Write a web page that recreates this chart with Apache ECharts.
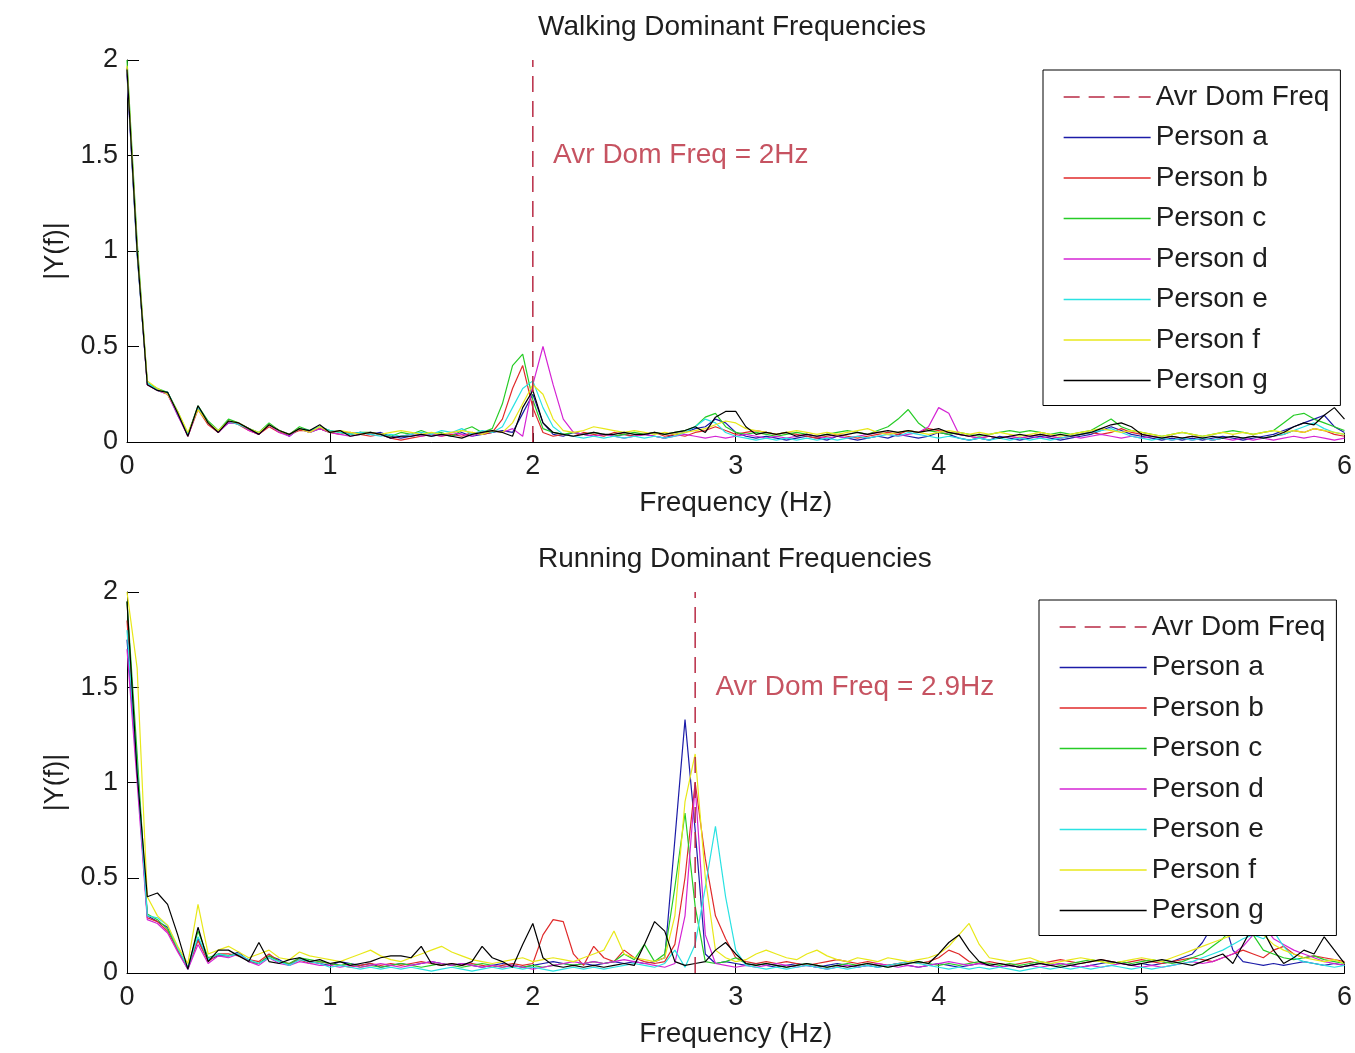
<!DOCTYPE html>
<html>
<head>
<meta charset="utf-8">
<script src="https://cdn.jsdelivr.net/npm/echarts@6/dist/echarts.min.js"></script>
<style>html,body{margin:0;padding:0;background:#fff;}#chart{width:1355px;height:1053px;}</style>
</head>
<body>
<div id="chart"></div>
<script>
// Frequency bins (Hz)
const freqs = [0,0.05,0.1,0.15,0.2,0.25,0.3,0.35,0.4,0.45,0.5,0.55,0.6,0.65,0.7,0.75,0.8,0.85,0.9,0.95,
1,1.05,1.1,1.15,1.2,1.25,1.3,1.35,1.4,1.45,1.5,1.55,1.6,1.65,1.7,1.75,1.8,1.85,1.9,1.95,
2,2.05,2.1,2.15,2.2,2.25,2.3,2.35,2.4,2.45,2.5,2.55,2.6,2.65,2.7,2.75,2.8,2.85,2.9,2.95,
3,3.05,3.1,3.15,3.2,3.25,3.3,3.35,3.4,3.45,3.5,3.55,3.6,3.65,3.7,3.75,3.8,3.85,3.9,3.95,
4,4.05,4.1,4.15,4.2,4.25,4.3,4.35,4.4,4.45,4.5,4.55,4.6,4.65,4.7,4.75,4.8,4.85,4.9,4.95,
5,5.05,5.1,5.15,5.2,5.25,5.3,5.35,5.4,5.45,5.5,5.55,5.6,5.65,5.7,5.75,5.8,5.85,5.9,5.95,6];

const personNames = ['Person a','Person b','Person c','Person d','Person e','Person f','Person g'];
const personColors = ['#1c1ca8','#e02a2a','#26cc26','#d424d4','#2ae2e2','#e8e81a','#000000'];

const xTicks = [0,1,2,3,4,5,6];
const yTicks = [0,0.5,1,1.5,2];

// Walking
const walkA = [1.93,0.98,0.31,0.27,0.26,0.14,0.04,0.18,0.10,0.06,0.10,0.10,0.07,0.04,0.09,0.06,0.03,0.07,0.05,0.07,
0.05,0.06,0.04,0.05,0.04,0.05,0.03,0.02,0.03,0.04,0.03,0.04,0.03,0.05,0.03,0.04,0.05,0.06,0.05,0.15,
0.25,0.10,0.04,0.03,0.05,0.04,0.03,0.04,0.03,0.04,0.03,0.04,0.03,0.02,0.04,0.05,0.07,0.08,0.12,0.10,
0.05,0.03,0.02,0.03,0.02,0.01,0.02,0.03,0.02,0.01,0.03,0.02,0.01,0.02,0.03,0.02,0.04,0.03,0.02,0.03,
0.05,0.04,0.02,0.01,0.02,0.01,0.03,0.02,0.01,0.02,0.03,0.02,0.01,0.02,0.03,0.04,0.06,0.08,0.06,0.04,
0.03,0.02,0.01,0.02,0.01,0.02,0.01,0.02,0.03,0.02,0.01,0.02,0.03,0.04,0.06,0.08,0.10,0.12,0.14,0.08,0.05];
const walkB = [1.96,1.02,0.30,0.27,0.25,0.15,0.03,0.17,0.09,0.05,0.11,0.09,0.06,0.04,0.08,0.05,0.04,0.06,0.06,0.07,
0.05,0.04,0.05,0.04,0.03,0.04,0.02,0.01,0.02,0.03,0.04,0.03,0.04,0.03,0.05,0.04,0.05,0.12,0.28,0.40,
0.18,0.05,0.03,0.04,0.03,0.05,0.04,0.03,0.05,0.04,0.03,0.04,0.05,0.03,0.04,0.03,0.05,0.06,0.08,0.06,
0.04,0.05,0.06,0.05,0.04,0.05,0.04,0.03,0.02,0.03,0.04,0.03,0.02,0.03,0.04,0.05,0.04,0.06,0.05,0.07,
0.06,0.05,0.04,0.03,0.02,0.03,0.02,0.03,0.02,0.03,0.04,0.03,0.02,0.03,0.04,0.05,0.04,0.05,0.07,0.05,
0.04,0.03,0.02,0.03,0.02,0.03,0.02,0.01,0.02,0.03,0.02,0.03,0.02,0.03,0.04,0.06,0.05,0.07,0.06,0.04,0.03];
const walkC = [2.00,1.05,0.31,0.28,0.26,0.16,0.04,0.19,0.11,0.06,0.12,0.10,0.07,0.05,0.10,0.06,0.04,0.08,0.06,0.08,
0.06,0.05,0.04,0.05,0.05,0.04,0.03,0.05,0.04,0.06,0.04,0.05,0.03,0.06,0.08,0.05,0.07,0.20,0.40,0.46,
0.22,0.07,0.05,0.04,0.05,0.04,0.05,0.04,0.03,0.04,0.05,0.04,0.05,0.04,0.05,0.06,0.08,0.13,0.15,0.08,
0.05,0.04,0.05,0.04,0.03,0.04,0.05,0.04,0.03,0.04,0.05,0.06,0.05,0.04,0.06,0.08,0.12,0.17,0.10,0.06,
0.05,0.04,0.05,0.04,0.03,0.04,0.05,0.06,0.05,0.06,0.05,0.04,0.05,0.04,0.05,0.06,0.09,0.12,0.08,0.06,
0.05,0.04,0.03,0.04,0.05,0.04,0.03,0.04,0.05,0.06,0.05,0.04,0.05,0.06,0.10,0.14,0.15,0.12,0.10,0.08,0.06];
const walkD = [1.94,1.00,0.30,0.27,0.25,0.14,0.03,0.18,0.10,0.05,0.10,0.10,0.06,0.04,0.09,0.05,0.03,0.07,0.05,0.07,
0.05,0.04,0.03,0.04,0.05,0.04,0.02,0.03,0.04,0.03,0.04,0.03,0.05,0.04,0.03,0.05,0.06,0.05,0.07,0.03,
0.30,0.50,0.30,0.12,0.05,0.04,0.03,0.04,0.03,0.02,0.03,0.04,0.03,0.02,0.03,0.04,0.03,0.02,0.03,0.02,
0.03,0.04,0.03,0.02,0.03,0.02,0.03,0.04,0.03,0.02,0.03,0.02,0.03,0.04,0.05,0.04,0.03,0.04,0.05,0.08,
0.18,0.15,0.04,0.03,0.02,0.03,0.02,0.03,0.02,0.03,0.02,0.03,0.02,0.03,0.02,0.03,0.04,0.03,0.02,0.03,
0.02,0.03,0.02,0.01,0.02,0.01,0.02,0.01,0.02,0.01,0.02,0.01,0.02,0.01,0.02,0.03,0.02,0.03,0.02,0.01,0.02];
const walkE = [1.95,0.99,0.31,0.27,0.26,0.15,0.04,0.18,0.10,0.06,0.11,0.09,0.07,0.05,0.09,0.06,0.04,0.07,0.06,0.08,
0.06,0.05,0.04,0.05,0.04,0.03,0.04,0.03,0.04,0.05,0.04,0.06,0.05,0.07,0.04,0.06,0.05,0.08,0.18,0.28,
0.32,0.18,0.08,0.04,0.03,0.02,0.03,0.02,0.03,0.02,0.03,0.02,0.03,0.02,0.03,0.05,0.08,0.12,0.10,0.05,
0.03,0.02,0.01,0.02,0.01,0.02,0.01,0.02,0.01,0.02,0.01,0.02,0.03,0.02,0.03,0.04,0.03,0.05,0.04,0.03,
0.02,0.03,0.02,0.01,0.02,0.01,0.02,0.01,0.02,0.01,0.02,0.01,0.02,0.03,0.04,0.05,0.06,0.07,0.05,0.03,
0.02,0.01,0.02,0.01,0.02,0.01,0.02,0.01,0.02,0.03,0.02,0.03,0.02,0.03,0.04,0.06,0.08,0.10,0.07,0.05,0.04];
const walkF = [1.97,1.01,0.32,0.28,0.25,0.16,0.05,0.17,0.10,0.06,0.11,0.10,0.07,0.05,0.09,0.06,0.04,0.07,0.05,0.08,
0.05,0.06,0.05,0.04,0.05,0.04,0.05,0.06,0.05,0.04,0.05,0.04,0.05,0.06,0.05,0.04,0.06,0.05,0.10,0.20,
0.30,0.25,0.12,0.06,0.05,0.06,0.08,0.07,0.06,0.05,0.06,0.05,0.04,0.05,0.04,0.05,0.06,0.07,0.09,0.11,
0.10,0.07,0.06,0.05,0.04,0.05,0.06,0.05,0.04,0.05,0.04,0.05,0.06,0.07,0.05,0.04,0.05,0.06,0.05,0.04,
0.05,0.06,0.05,0.04,0.05,0.04,0.05,0.04,0.03,0.04,0.05,0.04,0.03,0.04,0.05,0.06,0.07,0.06,0.05,0.06,
0.05,0.04,0.03,0.04,0.05,0.04,0.03,0.04,0.05,0.04,0.05,0.04,0.05,0.06,0.05,0.06,0.05,0.07,0.06,0.05,0.04];
const walkG = [1.95,1.00,0.30,0.27,0.26,0.15,0.03,0.19,0.10,0.05,0.11,0.10,0.07,0.04,0.09,0.06,0.04,0.07,0.06,0.09,
0.05,0.06,0.03,0.04,0.05,0.04,0.02,0.03,0.03,0.04,0.03,0.04,0.03,0.02,0.04,0.05,0.06,0.05,0.03,0.18,
0.27,0.10,0.05,0.04,0.03,0.04,0.05,0.04,0.04,0.05,0.04,0.04,0.05,0.04,0.05,0.06,0.08,0.05,0.13,0.16,
0.16,0.08,0.04,0.05,0.04,0.05,0.03,0.04,0.03,0.04,0.03,0.04,0.05,0.04,0.05,0.06,0.05,0.06,0.05,0.06,
0.07,0.05,0.04,0.03,0.04,0.03,0.02,0.03,0.04,0.03,0.04,0.03,0.04,0.03,0.04,0.05,0.07,0.09,0.10,0.08,
0.04,0.03,0.02,0.03,0.02,0.03,0.02,0.03,0.02,0.03,0.02,0.03,0.02,0.03,0.05,0.08,0.10,0.09,0.14,0.18,0.12];

// Running
const runA = [1.75,1.05,0.30,0.27,0.24,0.12,0.02,0.18,0.07,0.09,0.09,0.11,0.06,0.05,0.09,0.07,0.04,0.08,0.06,0.05,
0.04,0.06,0.05,0.04,0.05,0.03,0.04,0.05,0.04,0.05,0.06,0.05,0.04,0.05,0.04,0.03,0.04,0.05,0.04,0.03,
0.04,0.05,0.06,0.05,0.04,0.05,0.04,0.05,0.06,0.05,0.06,0.05,0.06,0.08,0.70,1.33,0.75,0.10,0.05,0.06,
0.05,0.04,0.05,0.04,0.03,0.04,0.05,0.04,0.03,0.04,0.05,0.04,0.03,0.04,0.03,0.04,0.05,0.04,0.03,0.04,
0.05,0.04,0.03,0.04,0.05,0.04,0.03,0.04,0.03,0.04,0.05,0.04,0.05,0.04,0.03,0.04,0.05,0.06,0.05,0.04,
0.05,0.04,0.05,0.06,0.08,0.10,0.16,0.25,0.30,0.12,0.06,0.05,0.04,0.05,0.04,0.05,0.06,0.05,0.04,0.05,0.04];
const runB = [1.85,1.10,0.29,0.27,0.22,0.12,0.03,0.17,0.06,0.10,0.10,0.09,0.07,0.06,0.10,0.06,0.05,0.07,0.05,0.06,
0.05,0.04,0.03,0.04,0.05,0.04,0.05,0.04,0.05,0.06,0.05,0.04,0.05,0.04,0.05,0.04,0.03,0.04,0.05,0.04,
0.05,0.20,0.28,0.27,0.10,0.04,0.14,0.08,0.06,0.12,0.08,0.06,0.05,0.06,0.15,0.50,1.00,0.60,0.30,0.18,
0.08,0.06,0.05,0.06,0.05,0.06,0.05,0.04,0.05,0.06,0.07,0.06,0.05,0.06,0.05,0.04,0.05,0.06,0.05,0.06,
0.08,0.12,0.10,0.06,0.05,0.06,0.05,0.04,0.05,0.06,0.05,0.06,0.07,0.06,0.05,0.06,0.07,0.06,0.05,0.06,
0.07,0.06,0.05,0.06,0.07,0.08,0.07,0.06,0.08,0.10,0.12,0.10,0.08,0.12,0.14,0.10,0.08,0.09,0.08,0.07,0.06];
const runC = [1.95,1.15,0.31,0.28,0.23,0.13,0.03,0.22,0.08,0.10,0.09,0.10,0.06,0.05,0.09,0.06,0.05,0.08,0.07,0.06,
0.05,0.04,0.05,0.03,0.04,0.03,0.04,0.05,0.04,0.03,0.04,0.05,0.04,0.03,0.04,0.05,0.04,0.03,0.04,0.03,
0.04,0.03,0.04,0.05,0.04,0.05,0.06,0.05,0.06,0.10,0.07,0.15,0.06,0.10,0.45,0.84,0.35,0.06,0.05,0.06,
0.08,0.05,0.04,0.05,0.04,0.03,0.04,0.05,0.04,0.03,0.04,0.05,0.04,0.05,0.04,0.03,0.04,0.05,0.06,0.05,
0.04,0.05,0.04,0.05,0.06,0.05,0.04,0.05,0.04,0.05,0.06,0.05,0.04,0.05,0.06,0.07,0.06,0.05,0.06,0.05,
0.06,0.07,0.06,0.05,0.06,0.08,0.10,0.14,0.18,0.24,0.28,0.20,0.12,0.10,0.08,0.07,0.08,0.09,0.07,0.06,0.05];
const runD = [1.70,1.00,0.28,0.26,0.21,0.11,0.02,0.15,0.05,0.09,0.08,0.10,0.06,0.04,0.08,0.05,0.04,0.06,0.05,0.04,
0.04,0.03,0.04,0.03,0.04,0.05,0.04,0.03,0.04,0.05,0.06,0.05,0.04,0.05,0.04,0.03,0.04,0.03,0.04,0.03,
0.02,0.03,0.04,0.05,0.06,0.05,0.06,0.05,0.06,0.07,0.06,0.05,0.04,0.03,0.05,0.30,0.98,0.20,0.05,0.04,
0.03,0.04,0.03,0.04,0.05,0.04,0.03,0.04,0.03,0.02,0.03,0.04,0.03,0.04,0.05,0.04,0.03,0.04,0.03,0.04,
0.05,0.06,0.05,0.04,0.05,0.04,0.03,0.04,0.03,0.04,0.03,0.04,0.05,0.04,0.03,0.04,0.03,0.04,0.05,0.04,
0.03,0.04,0.03,0.04,0.05,0.06,0.05,0.06,0.08,0.10,0.14,0.20,0.25,0.18,0.15,0.12,0.10,0.08,0.06,0.05,0.04];
const runE = [1.80,1.08,0.30,0.29,0.25,0.13,0.03,0.19,0.07,0.10,0.09,0.10,0.07,0.05,0.08,0.06,0.04,0.07,0.06,0.05,
0.03,0.04,0.03,0.02,0.03,0.02,0.03,0.02,0.03,0.02,0.01,0.02,0.03,0.02,0.01,0.02,0.03,0.02,0.03,0.02,
0.03,0.02,0.01,0.02,0.03,0.02,0.03,0.02,0.03,0.04,0.05,0.04,0.03,0.05,0.12,0.03,0.15,0.45,0.77,0.40,
0.12,0.04,0.03,0.02,0.03,0.02,0.03,0.04,0.03,0.02,0.03,0.02,0.03,0.04,0.03,0.04,0.05,0.06,0.05,0.04,
0.03,0.02,0.03,0.02,0.03,0.02,0.03,0.02,0.01,0.02,0.03,0.02,0.03,0.02,0.03,0.02,0.03,0.04,0.03,0.02,
0.03,0.02,0.03,0.04,0.05,0.06,0.08,0.10,0.12,0.15,0.18,0.20,0.18,0.22,0.14,0.08,0.06,0.05,0.04,0.03,0.04];
const runF = [2.00,1.60,0.40,0.30,0.25,0.14,0.05,0.36,0.10,0.12,0.14,0.11,0.08,0.10,0.12,0.08,0.07,0.11,0.09,0.08,
0.07,0.06,0.08,0.10,0.12,0.09,0.07,0.06,0.08,0.10,0.12,0.14,0.11,0.09,0.07,0.06,0.05,0.06,0.07,0.08,
0.06,0.07,0.08,0.07,0.06,0.08,0.10,0.12,0.22,0.10,0.08,0.07,0.06,0.08,0.30,0.90,1.15,0.50,0.12,0.08,
0.06,0.07,0.10,0.12,0.10,0.08,0.07,0.10,0.12,0.09,0.07,0.06,0.08,0.07,0.06,0.08,0.07,0.06,0.07,0.08,
0.10,0.14,0.20,0.26,0.15,0.08,0.07,0.06,0.07,0.08,0.06,0.05,0.06,0.07,0.08,0.07,0.06,0.05,0.06,0.07,
0.08,0.07,0.06,0.08,0.10,0.12,0.14,0.16,0.18,0.20,0.22,0.28,0.20,0.15,0.12,0.10,0.08,0.07,0.06,0.07,0.05];
const runG = [1.95,1.05,0.40,0.42,0.36,0.20,0.02,0.24,0.06,0.12,0.12,0.09,0.06,0.16,0.06,0.05,0.07,0.08,0.06,0.07,
0.05,0.06,0.04,0.05,0.06,0.08,0.09,0.09,0.08,0.14,0.05,0.04,0.05,0.04,0.06,0.14,0.08,0.06,0.03,0.15,
0.26,0.08,0.04,0.03,0.04,0.03,0.04,0.03,0.04,0.05,0.04,0.15,0.27,0.22,0.06,0.04,0.05,0.06,0.12,0.16,
0.10,0.05,0.04,0.05,0.04,0.03,0.04,0.05,0.04,0.03,0.04,0.03,0.04,0.05,0.04,0.03,0.04,0.05,0.06,0.05,
0.10,0.16,0.20,0.12,0.06,0.04,0.05,0.04,0.03,0.04,0.05,0.04,0.03,0.04,0.05,0.06,0.07,0.06,0.05,0.04,
0.05,0.06,0.07,0.06,0.05,0.04,0.06,0.08,0.10,0.05,0.15,0.25,0.22,0.12,0.05,0.08,0.12,0.10,0.19,0.12,0.05];

const walkSeries = [walkA, walkB, walkC, walkD, walkE, walkF, walkG];
const runSeries = [runA, runB, runC, runD, runE, runF, runG];

const walkAvrFreq = 2.0;
const runAvrFreq = 2.8;
const walkAvrLabel = 'Avr Dom Freq = 2Hz';
const runAvrLabel = 'Avr Dom Freq = 2.9Hz';
const labelAt = [[2.1, 1.5], [2.9, 1.5]];

const titles = ['Walking Dominant Frequencies', 'Running Dominant Frequencies'];
const avrName = 'Avr Dom Freq';

const FONT = '"Liberation Sans", Arial, sans-serif';
const TXT = '#1e1e1e';
const AVR_COLOR = '#b82a44';
const ANNOT_COLOR = '#b8283a';

function xAxisCfg(idx) {
  return {
    gridIndex: idx, type: 'value', min: 0, max: 6, interval: 1,
    axisLine: { show: true, onZero: false, lineStyle: { color: '#000', width: 1 } },
    axisTick: { show: true, inside: true, length: 9, lineStyle: { color: '#000' } },
    axisLabel: { color: TXT, fontSize: 27, fontFamily: FONT, margin: 11,
      formatter: v => xTicks.includes(v) ? String(v) : '' },
    splitLine: { show: false },
    name: 'Frequency (Hz)', nameLocation: 'middle', nameGap: 47,
    nameTextStyle: { color: TXT, fontSize: 28, fontFamily: FONT }
  };
}
function yAxisCfg(idx) {
  return {
    gridIndex: idx, type: 'value', min: 0, max: 2, interval: 0.5,
    axisLine: { show: true, lineStyle: { color: '#000', width: 1 } },
    axisTick: { show: true, inside: true, length: 12, lineStyle: { color: '#000' } },
    axisLabel: { color: TXT, fontSize: 27, fontFamily: FONT, margin: 9,
      formatter: v => yTicks.includes(v) ? String(v) : '' },
    splitLine: { show: false },
    name: '|Y(f)|', nameLocation: 'middle', nameRotate: 90, nameGap: 58,
    nameTextStyle: { color: TXT, fontSize: 27, fontFamily: FONT }
  };
}

const series = [];
[walkSeries, runSeries].forEach((set, g) => {
  set.forEach((vals, k) => {
    series.push({
      name: personNames[k], type: 'line', xAxisIndex: g, yAxisIndex: g,
      data: vals.map((v, i) => [freqs[i], v]),
      symbol: 'none', showSymbol: false,
      lineStyle: { color: personColors[k], width: 1.2 },
      itemStyle: { color: personColors[k] },
      z: 2 + k * 0.01
    });
  });
  const f = g === 0 ? walkAvrFreq : runAvrFreq;
  series.push({
    name: avrName, type: 'line', xAxisIndex: g, yAxisIndex: g,
    data: [[f, 0], [f, 2]],
    symbol: 'none', showSymbol: false,
    lineStyle: { color: AVR_COLOR, width: 1.5, type: [16, 9] },
    itemStyle: { color: AVR_COLOR },
    z: 3
  });
  series.push({
    name: 'annot' + g, type: 'scatter', xAxisIndex: g, yAxisIndex: g,
    data: [labelAt[g]], symbolSize: 0, silent: true,
    label: { show: true, position: 'right', distance: 0,
      formatter: g === 0 ? walkAvrLabel : runAvrLabel,
      color: ANNOT_COLOR, fontSize: 28, fontFamily: FONT },
    z: 3
  });
});

const legendData = [avrName].concat(personNames);
function legendCfg(left, top) {
  return {
    show: true, orient: 'vertical', left: left, top: top,
    data: legendData, selectedMode: false,
    backgroundColor: '#fff', borderColor: '#000', borderWidth: 1, borderRadius: 0,
    padding: [12, 11, 10, 20],
    itemWidth: 87, itemHeight: 14, itemGap: 10.5,
    itemStyle: { color: 'rgba(0,0,0,0)', borderColor: 'rgba(0,0,0,0)', borderWidth: 0 },
    lineStyle: { width: 1.3 },
    textStyle: { color: TXT, fontSize: 28, fontFamily: FONT, lineHeight: 30 },
    z: 10
  };
}

const chart = echarts.init(document.getElementById('chart'), null, { renderer: 'canvas' });
chart.setOption({
  animation: false,
  backgroundColor: '#ffffff',
  title: [
    { text: titles[0], left: 538, top: 13, padding: 0,
      textStyle: { color: TXT, fontSize: 28, fontWeight: 'normal', fontFamily: FONT } },
    { text: titles[1], left: 538, top: 545, padding: 0,
      textStyle: { color: TXT, fontSize: 28, fontWeight: 'normal', fontFamily: FONT } }
  ],
  grid: [
    { left: 127, right: 10, top: 60, height: 382, containLabel: false },
    { left: 127, right: 10, top: 592, height: 381, containLabel: false }
  ],
  xAxis: [xAxisCfg(0), xAxisCfg(1)],
  yAxis: [yAxisCfg(0), yAxisCfg(1)],
  legend: [legendCfg(1043, 70), legendCfg(1039, 600)],
  series: series
});
</script>
</body>
</html>
